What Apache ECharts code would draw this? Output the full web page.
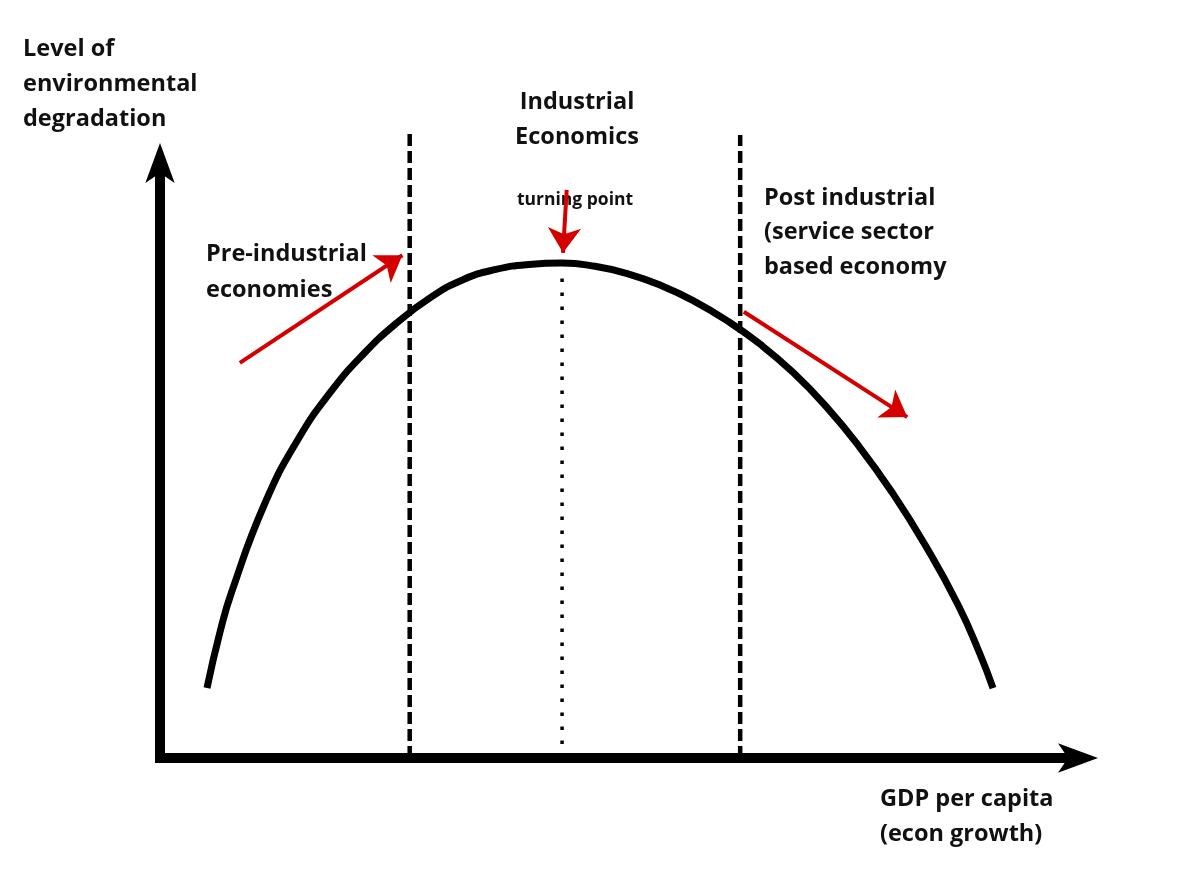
<!DOCTYPE html>
<html>
<head>
<meta charset="utf-8">
<script src="https://cdn.jsdelivr.net/npm/echarts@6/dist/echarts.min.js"></script>
<style>
html,body{margin:0;padding:0;background:#fff;}
#chart{width:1200px;height:875px;}
</style>
</head>
<body>
<div id="chart"></div>
<script>
// ---- Data (conceptual units: GDP per capita 0-100, degradation 0-100) ----
const curveX = [5.12, 6.54, 7.84, 11.44, 15.03, 18.63, 22.22, 25.82, 29.41, 33.01, 36.60, 40.20, 43.79, 47.39, 50.98, 54.58, 58.17, 61.76, 65.36, 68.95, 72.55, 76.14, 79.74, 83.33, 86.93, 89.32, 90.74];
const curveY = [11.76, 21.18, 28.07, 42.86, 53.53, 61.60, 67.98, 73.16, 77.34, 80.39, 82.12, 82.96, 83.19, 82.64, 81.38, 79.41, 76.79, 73.51, 69.56, 64.82, 59.09, 52.39, 44.66, 35.85, 25.76, 17.48, 11.76];
const stageBoundaryX = [27.2, 63.2];
const stageBoundaryTop = [105.2, 104.7];
const turningPointX = 43.8;
const turningPointY = 82.0;
const arrowFrom = [[8.7, 66.4], [44.3, 95.5], [63.6, 75.0]];
const arrowTo = [[26.4, 84.5], [43.9, 84.9], [81.4, 57.3]];
const axisNames = ['GDP per capita\n(econ growth)', 'Level of\nenvironmental\ndegradation'];
const stageLabels = ['Pre-industrial\neconomies', 'Industrial\nEconomics', 'Post industrial\n(service sector\nbased economy'];
const turningLabel = 'turning point';

const FONT = '"Open Sans", "Noto Sans", sans-serif';
const RED = '#d40000';

const chart = echarts.init(document.getElementById('chart'), null, {renderer: 'canvas'});

const curveData = curveX.map((x, i) => [x, curveY[i]]);

const boundarySeries = stageBoundaryX.map((x, i) => ({
  type: 'line',
  data: [[x, 0], [x, stageBoundaryTop[i]]],
  showSymbol: false,
  clip: false,
  silent: true,
  lineStyle: {color: '#000', width: 4.5, type: [12, 5]},
  z: 3
}));

const axisLineCfg = {
  show: true, onZero: false, symbol: ['none', 'arrow'], symbolSize: [22, 40], symbolOffset: [0, 20],
  lineStyle: {color: '#000', width: 10, cap: 'square'}
};

const option = {
  backgroundColor: '#fff',
  animation: false,
  grid: {left: 160, right: 122, top: 163, bottom: 117},
  xAxis: {
    type: 'value', min: 0, max: 100,
    axisLine: axisLineCfg,
    axisTick: {show: false}, axisLabel: {show: false}, splitLine: {show: false}
  },
  yAxis: {
    type: 'value', min: 0, max: 100,
    axisLine: axisLineCfg,
    axisTick: {show: false}, axisLabel: {show: false}, splitLine: {show: false}
  },
  series: [
    {
      type: 'line',
      data: curveData,
      smooth: 0.5,
      showSymbol: false,
      clip: false,
      silent: true,
      lineStyle: {color: '#000', width: 7},
      z: 4
    },
    ...boundarySeries,
    {
      type: 'line',
      data: [[turningPointX, 0], [turningPointX, turningPointY]],
      showSymbol: false,
      silent: true,
      lineStyle: {color: '#000', width: 3.5, type: [3.5, 10.5]},
      z: 3
    },
    {
      type: 'lines',
      coordinateSystem: 'cartesian2d',
      symbol: ['none', 'arrow'],
      symbolSize: [15, 25],
      silent: true,
      lineStyle: {color: RED, width: 4, opacity: 1},
      data: arrowFrom.map((p, i) => ({coords: [p, arrowTo[i]]})),
      z: 6
    }
  ],
  graphic: [
    {type: 'text', left: 23, top: 32, z: 1, style: {text: axisNames[1], font: 'bold 23.5px ' + FONT, fill: '#111', lineHeight: 35}},
    {type: 'text', left: 880, top: 782, z: 1, style: {text: axisNames[0], font: 'bold 23.5px ' + FONT, fill: '#111', lineHeight: 35}},
    {type: 'text', left: 206, top: 236, z: 1, style: {text: stageLabels[0], font: 'bold 23.5px ' + FONT, fill: '#111', lineHeight: 36}},
    {type: 'text', x: 577, y: 85, z: 1, style: {text: stageLabels[1], font: 'bold 23.5px ' + FONT, fill: '#111', lineHeight: 35, align: 'center', verticalAlign: 'top'}},
    {type: 'text', left: 764, top: 181, z: 1, style: {text: stageLabels[2], font: 'bold 23.5px ' + FONT, fill: '#111', lineHeight: 34.5}},
    {type: 'text', x: 575, y: 200, z: 1, style: {text: turningLabel, font: 'bold 17.5px ' + FONT, fill: '#111', align: 'center', verticalAlign: 'middle'}}
  ]
};
chart.setOption(option);
</script>
</body>
</html>
